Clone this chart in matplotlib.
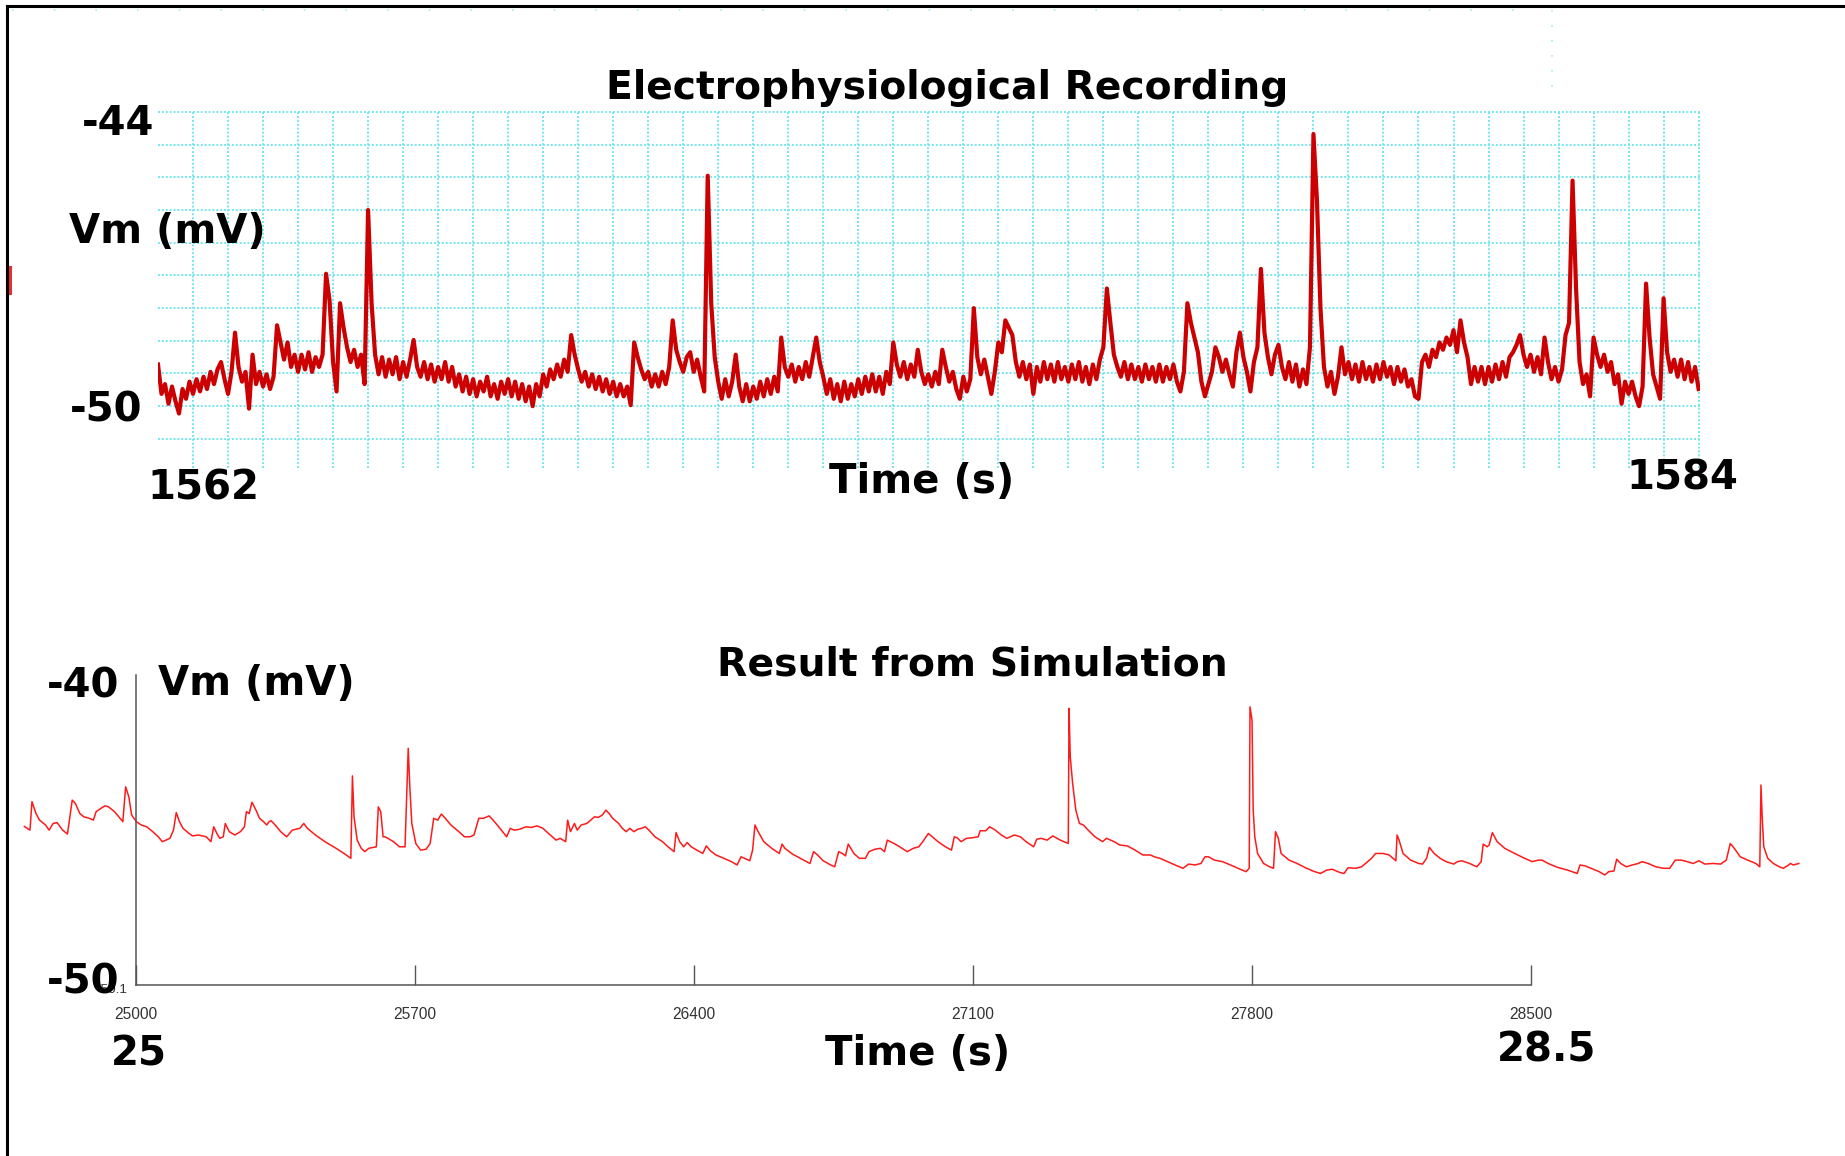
import numpy as np
import matplotlib
matplotlib.use("Agg")
import matplotlib.pyplot as plt
from matplotlib.lines import Line2D

# --- recorded trace (top), one sample every 0.05 s from 1562 s ---
rec_t0 = 1562.0
rec_dt = 0.05
vm_rec = [
    # 1562
    -49.15, -49.75, -49.55, -49.95, -49.60, -49.90, -50.15, -49.65, -49.85, -49.50,
    -49.75, -49.45, -49.70, -49.40, -49.65, -49.30, -49.55, -49.25, -49.10, -49.45,
    # 1563
    -49.75, -49.30, -48.50, -49.20, -49.50, -49.30, -50.05, -48.95, -49.55, -49.30,
    -49.60, -49.35, -49.65, -49.40, -48.35, -48.70, -49.05, -48.70, -49.20, -48.95,
    # 1564
    -49.30, -48.95, -49.25, -48.90, -49.30, -49.00, -49.20, -48.95, -47.30, -47.85,
    -49.10, -49.70, -47.90, -48.40, -48.80, -49.10, -48.85, -49.20, -48.95, -49.55,
    # 1565
    -46.00, -47.90, -48.95, -49.35, -49.00, -49.40, -49.05, -49.35, -49.00, -49.45,
    -49.10, -49.40, -49.05, -48.65, -49.20, -49.40, -49.10, -49.45, -49.15, -49.50,
    # 1566
    -49.20, -49.45, -49.10, -49.50, -49.20, -49.60, -49.35, -49.70, -49.40, -49.75,
    -49.45, -49.80, -49.50, -49.70, -49.40, -49.80, -49.55, -49.85, -49.50, -49.75,
    # 1567
    -49.45, -49.80, -49.50, -49.85, -49.55, -49.90, -49.60, -50.00, -49.55, -49.80,
    -49.35, -49.60, -49.25, -49.45, -49.15, -49.40, -49.05, -49.30, -48.55, -48.95,
    # 1568
    -49.25, -49.50, -49.30, -49.60, -49.35, -49.65, -49.40, -49.70, -49.45, -49.75,
    -49.50, -49.80, -49.55, -49.80, -49.60, -49.98, -48.70, -49.00, -49.25, -49.45,
    # 1569
    -49.30, -49.60, -49.35, -49.60, -49.30, -49.55, -49.20, -48.25, -48.85, -49.10,
    -49.30, -49.00, -48.90, -49.30, -49.05, -49.40, -49.70, -45.30, -47.90, -49.00,
    # 1570
    -49.50, -49.85, -49.45, -49.80, -49.50, -48.95, -49.60, -49.90, -49.55, -49.90,
    -49.60, -49.85, -49.50, -49.80, -49.45, -49.75, -49.40, -49.70, -48.60, -49.20,
    # 1571
    -49.40, -49.15, -49.50, -49.20, -49.45, -49.10, -49.40, -49.00, -48.60, -49.10,
    -49.40, -49.75, -49.45, -49.85, -49.55, -49.90, -49.50, -49.85, -49.55, -49.80,
    # 1572
    -49.45, -49.75, -49.40, -49.70, -49.35, -49.70, -49.40, -49.75, -49.30, -49.55,
    -48.70, -49.15, -49.40, -49.10, -49.45, -49.15, -49.40, -48.85, -49.30, -49.55,
    # 1573
    -49.35, -49.60, -49.30, -49.55, -48.85, -49.20, -49.50, -49.30, -49.65, -49.85,
    -49.40, -49.70, -49.45, -48.00, -49.00, -49.35, -49.05, -49.40, -49.75, -49.30,
    # 1574
    -48.70, -48.90, -48.25, -48.40, -48.55, -49.10, -49.40, -49.10, -49.45, -49.15,
    -49.75, -49.20, -49.50, -49.10, -49.45, -49.15, -49.50, -49.10, -49.45, -49.20,
    # 1575
    -49.50, -49.15, -49.45, -49.10, -49.50, -49.20, -49.55, -49.15, -49.45, -49.05,
    -48.80, -47.60, -48.30, -48.95, -49.20, -49.40, -49.10, -49.45, -49.15, -49.45,
    # 1576
    -49.20, -49.50, -49.15, -49.45, -49.20, -49.50, -49.15, -49.50, -49.20, -49.45,
    -49.15, -49.50, -49.70, -49.30, -47.90, -48.30, -48.60, -48.90, -49.50, -49.80,
    # 1577
    -49.55, -49.30, -48.80, -49.00, -49.30, -49.05, -49.35, -49.60, -48.90, -48.50,
    -49.00, -49.30, -49.70, -49.10, -48.80, -47.20, -48.50, -49.00, -49.35, -48.95,
    # 1578
    -48.75, -49.20, -49.45, -49.10, -49.50, -49.15, -49.60, -49.25, -49.55, -48.80,
    -44.45, -45.80, -48.00, -49.20, -49.60, -49.30, -49.75, -49.40, -48.80, -49.35,
    # 1579
    -49.10, -49.45, -49.15, -49.50, -49.10, -49.45, -49.20, -49.50, -49.15, -49.45,
    -49.10, -49.40, -49.20, -49.55, -49.20, -49.50, -49.25, -49.60, -49.45, -49.80,
    # 1580
    -49.85, -49.10, -48.95, -49.20, -48.85, -49.00, -48.70, -48.85, -48.60, -48.75,
    -48.45, -48.90, -48.25, -48.70, -49.00, -49.55, -49.20, -49.50, -49.20, -49.55,
    # 1581
    -49.20, -49.50, -49.15, -49.45, -49.10, -49.40, -49.00, -48.90, -48.75, -48.55,
    -48.95, -49.20, -48.95, -49.30, -49.00, -49.35, -48.60, -49.10, -49.45, -49.20,
    # 1582
    -49.50, -49.25, -48.55, -48.30, -45.40, -47.60, -49.10, -49.55, -49.35, -49.80,
    -48.60, -48.95, -49.20, -48.95, -49.30, -49.10, -49.55, -49.35, -49.95, -49.50,
    # 1583
    -49.75, -49.50, -49.80, -50.00, -49.60, -47.50, -48.60, -49.35, -49.60, -49.85,
    -47.80, -48.90, -49.30, -49.05, -49.40, -49.05, -49.45, -49.10, -49.50, -49.20,
    # 1584
    -49.65,
]

# --- simulated trace (bottom) ---
sim_t = [
    24720, 24734, 24739, 24749, 24758, 24773, 24782, 24792, 24802, 24816,
    24828, 24840, 24848, 24859, 24869, 24883, 24893, 24900, 24912, 24922,
    24931, 24946, 24960, 24967, 24974, 24982, 24989, 25001, 25013, 25027,
    25042, 25056, 25066, 25075, 25085, 25094, 25101, 25109, 25118, 25133,
    25142, 25157, 25176, 25188, 25195, 25203, 25210, 25219, 25224, 25234,
    25248, 25262, 25272, 25277, 25284, 25291, 25301, 25310, 25320, 25328,
    25334, 25339, 25349, 25363, 25378, 25392, 25411, 25421, 25430, 25450,
    25474, 25502, 25522, 25539, 25543, 25547, 25555, 25565, 25574, 25584,
    25603, 25608, 25614, 25620, 25625, 25632, 25646, 25661, 25675, 25683,
    25687, 25692, 25702, 25714, 25728, 25738, 25747, 25757, 25766, 25776,
    25790, 25810, 25824, 25838, 25848, 25860, 25872, 25886, 25896, 25910,
    25930, 25939, 25949, 25963, 25978, 25992, 26006, 26021, 26035, 26054,
    26064, 26078, 26083, 26090, 26100, 26107, 26117, 26131, 26141, 26150,
    26160, 26170, 26179, 26187, 26196, 26211, 26220, 26230, 26239, 26249,
    26259, 26268, 26278, 26287, 26302, 26321, 26335, 26350, 26355, 26364,
    26374, 26383, 26393, 26407, 26422, 26431, 26441, 26455, 26475, 26494,
    26508, 26518, 26527, 26540, 26547, 26553, 26561, 26575, 26595, 26614,
    26621, 26628, 26647, 26667, 26691, 26700, 26710, 26724, 26743, 26753,
    26763, 26772, 26780, 26787, 26801, 26815, 26830, 26839, 26854, 26868,
    26878, 26885, 26902, 26916, 26935, 26950, 26964, 26974, 26988, 26998,
    27012, 27031, 27046, 27053, 27060, 27070, 27084, 27099, 27113, 27118,
    27132, 27142, 27156, 27171, 27185, 27204, 27219, 27233, 27252, 27260,
    27271, 27286, 27300, 27319, 27339, 27341, 27344, 27350, 27358, 27367,
    27377, 27389, 27406, 27425, 27435, 27454, 27468, 27487, 27507, 27526,
    27545, 27555, 27569, 27588, 27607, 27627, 27641, 27657, 27672, 27682,
    27691, 27706, 27726, 27746, 27765, 27785, 27793, 27795, 27800, 27803,
    27807, 27814, 27829, 27844, 27854, 27859, 27866, 27873, 27893, 27913,
    27937, 27957, 27972, 27987, 28001, 28021, 28031, 28041, 28060, 28075,
    28090, 28100, 28110, 28129, 28144, 28154, 28161, 28164, 28169, 28179,
    28198, 28218, 28228, 28238, 28245, 28257, 28272, 28287, 28306, 28316,
    28326, 28346, 28364, 28375, 28380, 28390, 28395, 28403, 28415, 28434,
    28459, 28484, 28503, 28518, 28528, 28543, 28567, 28592, 28616, 28623,
    28636, 28651, 28671, 28685, 28695, 28708, 28715, 28725, 28739, 28754,
    28769, 28779, 28794, 28813, 28833, 28848, 28862, 28877, 28892, 28907,
    28921, 28936, 28956, 28976, 28990, 29000, 29010, 29025, 29044, 29064,
    29074, 29077, 29080, 29084, 29094, 29108, 29123, 29133, 29143, 29151,
    29158, 29172,
]
sim_vm = [
    -45.00, -45.12, -44.18, -44.57, -44.79, -44.95, -45.12, -44.90, -44.87, -45.12,
    -45.25, -44.13, -44.24, -44.57, -44.68, -44.73, -44.79, -44.51, -44.40, -44.32,
    -44.35, -44.51, -44.73, -44.84, -43.69, -44.02, -44.62, -44.84, -44.95, -45.01,
    -45.17, -45.34, -45.50, -45.45, -45.39, -45.12, -44.54, -44.84, -45.06, -45.23,
    -45.31, -45.28, -45.34, -45.50, -45.01, -45.23, -45.39, -45.34, -44.90, -45.17,
    -45.28, -45.17, -45.01, -44.51, -44.57, -44.20, -44.46, -44.73, -44.84, -44.95,
    -44.84, -44.81, -44.95, -45.17, -45.34, -45.12, -45.06, -44.90, -45.06, -45.28,
    -45.50, -45.72, -45.89, -46.05, -43.33, -44.68, -45.45, -45.72, -45.83, -45.72,
    -45.67, -44.35, -44.51, -45.34, -45.34, -45.39, -45.50, -45.67, -45.67, -42.42,
    -43.69, -44.90, -45.56, -45.78, -45.75, -45.56, -44.73, -44.79, -44.59, -44.73,
    -44.95, -45.17, -45.34, -45.34, -45.28, -44.73, -44.73, -44.65, -44.79, -45.01,
    -45.34, -45.06, -45.12, -45.09, -45.01, -45.03, -44.98, -45.06, -45.23, -45.45,
    -45.39, -45.50, -44.79, -45.17, -44.90, -45.12, -44.95, -44.90, -44.79, -44.68,
    -44.70, -44.62, -44.46, -44.57, -44.73, -44.90, -45.06, -45.17, -45.06, -45.17,
    -45.09, -45.06, -45.01, -45.12, -45.34, -45.50, -45.67, -45.83, -45.20, -45.50,
    -45.67, -45.53, -45.67, -45.78, -45.89, -45.64, -45.80, -45.94, -46.05, -46.16,
    -46.27, -46.00, -46.05, -46.13, -45.78, -44.95, -45.17, -45.50, -45.72, -45.89,
    -45.58, -45.72, -45.91, -46.05, -46.22, -45.83, -45.94, -46.13, -46.27, -46.33,
    -45.83, -45.89, -45.97, -45.58, -45.89, -46.05, -46.05, -45.83, -45.75, -45.72,
    -45.83, -45.45, -45.56, -45.67, -45.83, -45.72, -45.67, -45.50, -45.23, -45.34,
    -45.50, -45.67, -45.78, -45.34, -45.37, -45.50, -45.39, -45.37, -45.34, -45.14,
    -45.14, -45.01, -45.12, -45.28, -45.39, -45.28, -45.34, -45.50, -45.67, -45.42,
    -45.39, -45.45, -45.31, -45.45, -45.56, -41.10, -42.70, -43.58, -44.46, -44.90,
    -44.95, -45.12, -45.34, -45.50, -45.39, -45.50, -45.61, -45.64, -45.78, -45.94,
    -45.94, -46.00, -46.05, -46.16, -46.27, -46.38, -46.24, -46.27, -46.22, -46.00,
    -46.00, -46.11, -46.16, -46.27, -46.38, -46.49, -46.38, -41.05, -41.49, -44.46,
    -45.34, -45.89, -46.22, -46.33, -46.38, -45.17, -45.39, -45.89, -46.11, -46.22,
    -46.38, -46.49, -46.55, -46.44, -46.41, -46.52, -46.55, -46.36, -46.38, -46.33,
    -46.16, -46.05, -45.89, -45.89, -45.94, -46.05, -46.13, -45.28, -45.45, -45.89,
    -46.11, -46.22, -46.24, -46.05, -45.69, -45.89, -46.05, -46.16, -46.24, -46.16,
    -46.13, -46.22, -46.33, -46.16, -45.58, -45.67, -45.61, -45.20, -45.50, -45.72,
    -45.89, -46.05, -46.16, -46.11, -46.11, -46.22, -46.35, -46.44, -46.55, -46.27,
    -46.30, -46.38, -46.49, -46.60, -46.49, -46.47, -46.08, -46.22, -46.33, -46.27,
    -46.22, -46.16, -46.22, -46.33, -46.38, -46.38, -46.11, -46.11, -46.16, -46.22,
    -46.13, -46.24, -46.22, -46.24, -46.11, -45.56, -45.72, -46.00, -46.11, -46.22,
    -46.33, -43.63, -44.68, -45.67, -46.05, -46.22, -46.33, -46.38, -46.30, -46.22,
    -46.27, -46.22,
]
sim_ticks = [25000, 25700, 26400, 27100, 27800, 28500]

W, H = 1845, 1156
SMALL_FAMILY, SMALL_SIZE = "Liberation Sans", 11.2


def fxy(x, y):
    return x / W, 1 - y / H


def axes_rect(left, top, right, bottom):
    return [left / W, 1 - bottom / H, (right - left) / W, (bottom - top) / H]


def big_text(x, y, s, ha="left", size=29):
    fx, fy = fxy(x, y)
    fig.text(fx, fy, s, ha=ha, va="baseline", fontsize=size,
             fontweight="bold", family="DejaVu Sans", color="black")


fig = plt.figure(figsize=(W / 100, H / 100), dpi=100)
fig.patch.set_facecolor("white")

# Top panel: recording on a dotted cyan grid
ax1 = fig.add_axes(axes_rect(158, 111, 1700, 468))
t_rec = rec_t0 + rec_dt * np.arange(len(vm_rec))
ax1.plot(t_rec, vm_rec, color="#cc0000", lw=3.0, zorder=3,
         solid_joinstyle="round")
ax1.set_xlim(1562, 1584.02)
ax1.set_ylim(-44 - 357 * 6 / 295, -43.98)
ax1.set_xticks(np.arange(1562.5, 1584.01, 0.5))
ax1.set_yticks(-44 - np.arange(11) * 2 / 3)
ax1.grid(True, color="#74e6f0", linestyle=(0, (1.0, 1.0)), lw=1.4)
ax1.tick_params(length=0, labelbottom=False, labelleft=False)
for s in ax1.spines.values():
    s.set_visible(False)
ax1.set_axisbelow(True)
ax1.patch.set_visible(False)

# Bottom panel: simulation (axis bottom sits a little below -50)
ax2 = fig.add_axes(axes_rect(136, 675, 1531, 985))
ax2.plot(sim_t, sim_vm, color="#ff1a1a", lw=1.1, clip_on=False)
ax2.set_xlim(25000, 28500)
ax2.set_ylim(-50 - 7 * 10 / 303, -40)
ax2.patch.set_visible(False)
for side in ("top", "right"):
    ax2.spines[side].set_visible(False)
for side in ("left", "bottom"):
    ax2.spines[side].set_color("#555555")
    ax2.spines[side].set_linewidth(1.1)
ax2.set_yticks([])
ax2.set_xticks(sim_ticks)
ax2.set_xticklabels([str(v) for v in sim_ticks], fontfamily=SMALL_FAMILY,
                    fontsize=SMALL_SIZE, color="#333333")
ax2.tick_params(axis="x", direction="in", length=14.4, width=1.0,
                color="#555555", pad=16)

# small y label mostly hidden under the big "-50"
fx, fy = fxy(127, 990)
fig.text(fx, fy, "-50.1", ha="right", va="center", fontsize=SMALL_SIZE - 1.5,
         family=SMALL_FAMILY, color="#333333")

# labels, top panel
big_text(947, 99, "Electrophysiological Recording", ha="center", size=28.3)
big_text(154, 135, "-44", ha="right")
big_text(69, 243, "Vm (mV)")
big_text(142, 422, "-50", ha="right")
big_text(147, 500, "1562")
big_text(829, 493, "Time (s)")
big_text(1626, 490, "1584")

# labels, bottom panel
big_text(119, 697, "-40", ha="right")
big_text(158, 695, "Vm (mV)")
big_text(717, 675, "Result from Simulation", size=28.4)
big_text(119, 994, "-50", ha="right")
big_text(111, 1065, "25")
big_text(825, 1065, "Time (s)")
big_text(1497, 1062, "28.5")

# frame lines and leftover marks
fig.add_artist(Line2D([7 / W, 1], [1 - 6 / H, 1 - 6 / H], color="black", lw=2.2))
fig.add_artist(Line2D([7 / W, 7 / W], [0, 1 - 6 / H], color="black", lw=2.2))
fig.add_artist(Line2D([9.5 / W, 9.5 / W], [1 - 267 / H, 1 - 293 / H],
                      color="#e03030", lw=2.2))
fig.add_artist(Line2D([12 / W, 1552 / W], [1 - 10 / H, 1 - 10 / H],
                      color="#9ff0f5", lw=1.2, linestyle=(0, (1.0, 24.0))))
fig.add_artist(Line2D([1552 / W, 1552 / W], [1 - 10 / H, 1 - 100 / H],
                      color="#9ff0f5", lw=1.2, linestyle=(0, (1.0, 8.0))))

fig.savefig("out.png", dpi=100, facecolor="white")
